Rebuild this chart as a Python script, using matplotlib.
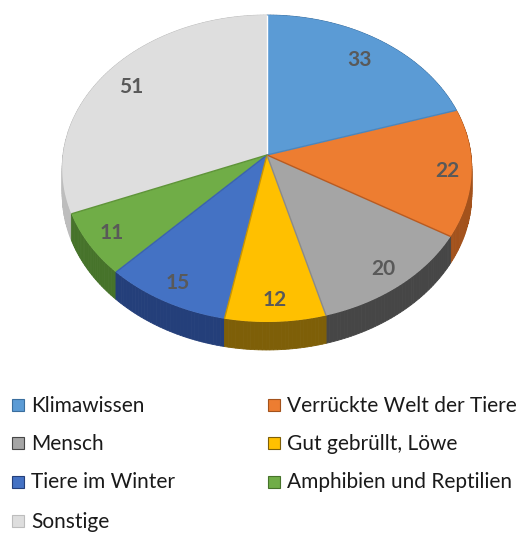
import numpy as np
import matplotlib
matplotlib.use("Agg")
import matplotlib.pyplot as plt
from matplotlib.patches import Polygon, Rectangle

categories = ["Klimawissen", "Verrückte Welt der Tiere", "Mensch", "Gut gebrüllt, Löwe",
              "Tiere im Winter", "Amphibien und Reptilien", "Sonstige"]
values = [33, 22, 20, 12, 15, 11, 51]
top_colors = ["#5B9BD5", "#ED7D31", "#A5A5A5", "#FFC000", "#4472C4", "#70AD47", "#DEDEDE"]
side_colors = ["#3A6E9E", "#A3521C", "#464646", "#7E5F08", "#243F7A", "#46732A", "#BDBDBD"]
edge_colors = ["#4A86BE", "#B85A20", "#8A8A8A", "#C89400", "#3A62AE", "#5E9438", "#FFFFFF"]

W, H = 523, 534
fig = plt.figure(figsize=(W / 100, H / 100), dpi=100)
ax = fig.add_axes([0, 0, 1, 1])
ax.set_xlim(0, W)
ax.set_ylim(H, 0)
ax.axis("off")

# perspective pie geometry (pixel coords)
cx, cy = 267.0, 155.0
A, B, k = 204.0, 152.3, 0.088
hdepth = 25.5


def proj(theta_deg, drop=0.0, r=1.0):
    t = np.radians(theta_deg)
    u, v = r * np.sin(t), r * np.cos(t)
    s = 1.0 + k * v
    return cx + A * u / s, cy - B * v / s + drop / s


total = float(sum(values))
bounds = np.concatenate([[0.0], np.cumsum(values) / total * 360.0])

# side walls, drawn back to front in small steps
quads = []
for i in range(len(values)):
    a0, a1 = bounds[i], bounds[i + 1]
    n = max(2, int(np.ceil((a1 - a0) / 1.0)))
    ts = np.linspace(a0, a1, n + 1)
    for j in range(n):
        t0, t1 = ts[j], ts[j + 1]
        tm = 0.5 * (t0 + t1)
        quads.append((np.cos(np.radians(tm)), i, t0, t1))
quads.sort(key=lambda q: -q[0])
for _, i, t0, t1 in quads:
    x0, y0 = proj(t0)
    x1, y1 = proj(t1)
    x0b, y0b = proj(t0, hdepth)
    x1b, y1b = proj(t1, hdepth)
    ax.add_patch(Polygon([(x0, y0), (x1, y1), (x1b, y1b), (x0b, y0b)], closed=True,
                         facecolor=side_colors[i], edgecolor=side_colors[i], lw=0.6, zorder=1))

# top faces
for i in range(len(values)):
    a0, a1 = bounds[i], bounds[i + 1]
    ts = np.linspace(a0, a1, max(3, int((a1 - a0) * 2)))
    pts = [(cx, cy)] + [proj(t) for t in ts]
    ax.add_patch(Polygon(pts, closed=True, facecolor=top_colors[i],
                         edgecolor="none", zorder=2))
# wedge separators
for i in range(len(values)):
    x, y = proj(bounds[i])
    ax.plot([cx, x], [cy, y], color=edge_colors[i - 1] if i > 0 else "#FFFFFF",
            lw=1.0, zorder=3, solid_capstyle="butt")

# data labels
for i, v in enumerate(values):
    tm = 0.5 * (bounds[i] + bounds[i + 1])
    vv = np.cos(np.radians(tm))
    r = 0.88 - 0.08 * max(vv, 0.0)
    lx, ly = proj(tm, r=r)
    ax.text(lx, ly, str(v), ha="center", va="center", fontsize=15,
            fontweight="bold", color="#595959", family="Lato", zorder=4)

# legend
leg_pos = [(12, 405), (268, 405), (12, 443), (268, 443), (12, 482), (268, 482), (12, 521)]
for i, name in enumerate(categories):
    x, y = leg_pos[i]
    ax.add_patch(Rectangle((x, y - 6), 12, 12, facecolor=top_colors[i],
                           edgecolor=side_colors[i], lw=0.8, zorder=2))
    ax.text(x + 19, y + 0.5, name, ha="left", va="center", fontsize=15,
            color="#1a1a1a", family="Lato")

fig.savefig("out.png", dpi=100)
